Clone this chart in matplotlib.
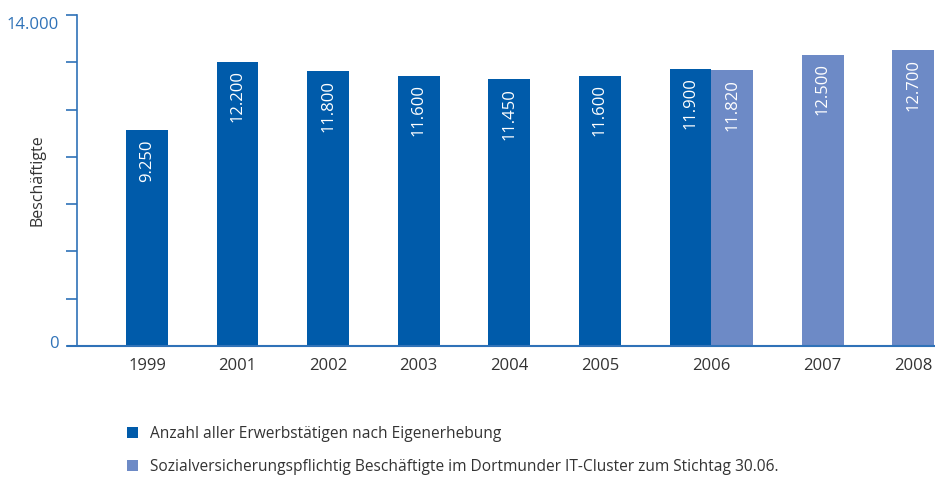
import numpy as np
import matplotlib.pyplot as plt
import matplotlib
import matplotlib.transforms as mtransforms

matplotlib.rcParams.update({'font.family': ['Open Sans', 'DejaVu Sans'], 'font.size': 11})

years = ['1999', '2001', '2002', '2003', '2004', '2005', '2006', '2007', '2008']
own_survey = [9250, 12200, 11800, 11600, 11450, 11600, 11900]
it_cluster = [11820, 12500, 12700]
labels = ['Anzahl aller Erwerbstätigen nach Eigenerhebung',
          'Sozialversicherungspflichtig Beschäftigte im Dortmunder IT-Cluster zum Stichtag 30.06.']

dark = '#005BAA'
light = '#6D8AC6'
axis_col = '#2F72B8'
text_col = '#333333'

w = 0.46
pos_dark = np.arange(len(own_survey), dtype=float)
pos_light = np.array([6.0 + w, 7.0 + w, 8.0 + w])
tick_pos = list(pos_dark[:6]) + [6.0 + w / 2, pos_light[1], pos_light[2]]

fig = plt.figure(figsize=(9.35, 4.78), dpi=100)
ax = fig.add_axes([77 / 935, 1 - 346 / 478, 1 - 77 / 935, 331 / 478])

ax.bar(pos_dark, own_survey, width=w, color=dark, label=labels[0])
ax.bar(pos_light, it_cluster, width=w, color=light, label=labels[1])

def fmt(v):
    return '{:,}'.format(v).replace(',', '.')

for p, v in list(zip(pos_dark, own_survey)) + list(zip(pos_light, it_cluster)):
    ax.text(p, v - 380, fmt(v), rotation=90, ha='center', va='top',
            color='white', fontsize=12)

# the original's bars sit a little lower than its tick scale
ymax = 14200
ax.set_xlim(-0.773, 8.70)
ax.set_ylim(0, ymax)
ax.set_yticks(np.linspace(0, ymax, 8))
ax.set_yticklabels(['0', '', '', '', '', '', '', '14.000'], color=axis_col, fontsize=12)
ax.set_xticks(tick_pos)
ax.set_xticklabels(years, color=text_col, fontsize=12)
ax.tick_params(axis='x', length=0, pad=9)
ax.tick_params(axis='y', length=8, width=1.2, color=axis_col, pad=5)
ax.set_ylabel('Beschäftigte', color=text_col, fontsize=11.5)
ax.yaxis.set_label_coords(-0.037, 0.5)

# nudge the y tick labels like in the original (top one down, zero a bit up)
yl = ax.get_yticklabels()
yl[-1].set_transform(yl[-1].get_transform() + mtransforms.ScaledTranslation(0, -6 / 72, fig.dpi_scale_trans))
yl[0].set_transform(yl[0].get_transform() + mtransforms.ScaledTranslation(0, 3 / 72, fig.dpi_scale_trans))

for s in ['top', 'right', 'bottom']:
    ax.spines[s].set_visible(False)
ax.spines['left'].set_color(axis_col)
ax.spines['left'].set_linewidth(1.2)
ax.axhline(0, xmin=-0.01, xmax=1.0, color=axis_col, lw=1.5, clip_on=False)

leg = fig.legend(loc='upper left', bbox_to_anchor=(113 / 935, 1 - 412 / 478),
                 frameon=False, handlelength=0.7, handleheight=0.7,
                 handletextpad=0.8, labelspacing=1.1, fontsize=11.2)
for t in leg.get_texts():
    t.set_color(text_col)

fig.savefig('out.png', dpi=100)
